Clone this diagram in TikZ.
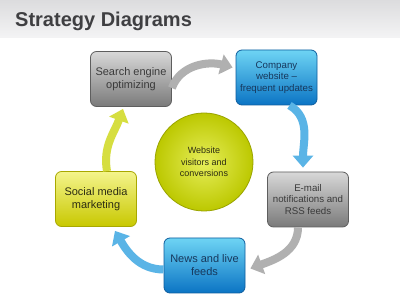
\documentclass[tikz,border=0pt]{standalone}
\usepackage{fontspec}
\setmainfont{Liberation Sans}
\usetikzlibrary{arrows.meta}
\definecolor{bandTop}{HTML}{DCDCDE}
\definecolor{bandBot}{HTML}{F4F4F5}
\definecolor{titleInk}{HTML}{3F3F42}
\definecolor{greyTop}{HTML}{D8D8D8}
\definecolor{greyBot}{HTML}{7A7A7A}
\definecolor{greyLine}{HTML}{5E5E5E}
\definecolor{greyInk}{HTML}{3A3A3A}
\definecolor{blueTop}{HTML}{6ED4F4}
\definecolor{blueBot}{HTML}{0B74C4}
\definecolor{blueLine}{HTML}{0D5D9E}
\definecolor{blueInk}{HTML}{17385C}
\definecolor{yelTop}{HTML}{F4F48C}
\definecolor{yelBot}{HTML}{C8C800}
\definecolor{yelLine}{HTML}{A8A800}
\definecolor{yelInk}{HTML}{2C2C12}
\definecolor{hubIn}{HTML}{E6EE5A}
\definecolor{hubOut}{HTML}{BCC800}
\definecolor{hubLine}{HTML}{9AA400}
\definecolor{arrGrey}{HTML}{B0B0B0}
\definecolor{arrBlue}{HTML}{5AB4E6}
\definecolor{arrYel}{HTML}{D6DE40}
\tikzset{
  title/.style={font=\fontsize{20}{24}\selectfont\bfseries, text=titleInk, inner sep=0pt},
  box/.style={rounded corners=6pt, thick, minimum width=81pt, minimum height=55pt,
    align=center, inner sep=2pt},
  two/.style={font=\fontsize{11}{13}\selectfont},
  three/.style={font=\fontsize{9.7}{11.6}\selectfont},
  greybox/.style={box, top color=greyTop, bottom color=greyBot, draw=greyLine, text=greyInk},
  bluebox/.style={box, top color=blueTop, bottom color=blueBot, draw=blueLine, text=blueInk},
  yelbox/.style={box, top color=yelTop, bottom color=yelBot, draw=yelLine, text=yelInk},
  hub/.style={circle, minimum size=98pt, inner color=hubIn, outer color=hubOut,
    draw=hubLine, thick, align=center, text=yelInk,
    font=\fontsize{9}{11.6}\selectfont},
  arr/.style={-{Triangle[length=12pt,width=20pt]}, line width=8pt, draw=#1}
}
\begin{document}
\begin{tikzpicture}[x=1pt,y=1pt]
  \useasboundingbox (0,0) rectangle (400,300);
  \fill[white] (0,0) rectangle (400,300);
  \shade[top color=bandTop, bottom color=bandBot] (0,262) rectangle (400,300);
  \node[title, anchor=base west] (head) at (15,273) {Strategy Diagrams};

  \node[greybox, two] (seo) at (131,221) {Search engine\\optimizing};
  \node[bluebox, three] (web) at (276.5,222.5) {Company\\website --\\frequent updates};
  \node[hub] (goal) at (204,138) {Website\\visitors and\\conversions};
  \node[greybox, three] (mail) at (308,100.5) {E-mail\\notifications and\\RSS feeds};
  \node[bluebox, two] (news) at (204.5,34.5) {News and live\\feeds};
  \node[yelbox, two] (social) at (96,101) {Social media\\marketing};

  % cycle of arrows
  \draw[arr=arrGrey] ([yshift=-9pt]seo.east) to[out=70,in=165] ([xshift=-3pt,yshift=10pt]web.west);
  \draw[arr=arrBlue] ([xshift=13pt]web.south) to[out=-30,in=90] ([xshift=-5pt,yshift=4pt]mail.north);
  \draw[arr=arrGrey] ([xshift=-10pt]mail.south) to[out=-90,in=20] ([xshift=5pt,yshift=-3pt]news.east);
  \draw[arr=arrBlue] ([yshift=-4pt]news.west) to[out=180,in=-60] ([xshift=19pt,yshift=-4pt]social.south);
  \draw[arr=arrYel] ([xshift=11pt]social.north) to[out=100,in=-110] ([xshift=-8pt,yshift=-2pt]seo.south);
\end{tikzpicture}
\end{document}
